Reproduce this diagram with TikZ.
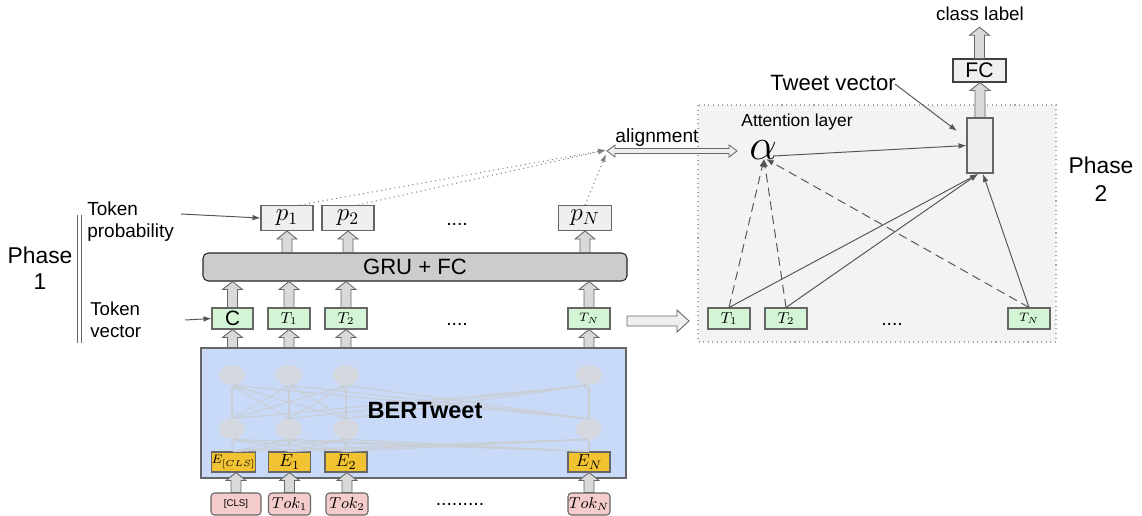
\documentclass[tikz,border=0pt]{standalone}
\usepackage{fontspec}
\setmainfont{Liberation Sans}
\usetikzlibrary{calc,arrows.meta,shapes.geometric}

\newdimen\px \px=0.02cm

\definecolor{edgegray}{HTML}{666666}
\definecolor{boxgray}{HTML}{EFEFEF}
\definecolor{grugray}{HTML}{CCCCCC}
\definecolor{mint}{HTML}{D3F5D6}
\definecolor{bertblue}{HTML}{C9DAF8}
\definecolor{gold}{HTML}{F1C232}
\definecolor{tokpink}{HTML}{F4CCCC}
\definecolor{neurgray}{HTML}{D5D8DE}
\definecolor{nnline}{HTML}{C9CDD4}
\definecolor{phasebg}{HTML}{F3F3F3}
\definecolor{arrgray}{HTML}{D9D9D9}
\definecolor{connc}{HTML}{555555}

% block arrow pointing up, from a lower point to an upper point
\newcommand\blkup[2]{%
  \draw[blk] let \p1=#1, \p2=#2 in
    (\x1-5*\px,\y1) -- (\x1-5*\px,\y2-8*\px) -- (\x1-10*\px,\y2-8*\px) --
    (\x1,\y2) -- (\x1+10*\px,\y2-8*\px) -- (\x1+5*\px,\y2-8*\px) --
    (\x1+5*\px,\y1) -- cycle;}

\begin{document}
\begin{tikzpicture}[x=0.02cm,y=-0.02cm,
  box/.style={draw=edgegray, line width=0.6pt, inner sep=0pt},
  probbox/.style={box, fill=boxgray, minimum width=52*\px, minimum height=25*\px,
                  font=\fontsize{14.4}{15}\selectfont},
  vecbox/.style={box, fill=mint, minimum width=42*\px, minimum height=21*\px,
                 font=\fontsize{9}{10}\selectfont},
  embbox/.style={box, fill=gold, minimum width=42*\px, minimum height=20*\px,
                 font=\fontsize{10}{11}\selectfont},
  tokbox/.style={box, fill=tokpink, minimum width=42*\px, minimum height=22*\px,
                 rounded corners=2pt, font=\fontsize{9}{10}\selectfont},
  neur/.style={ellipse, fill=neurgray, minimum width=26*\px, minimum height=20*\px, inner sep=0pt},
  nn/.style={draw=nnline, line width=0.6pt, -{Latex[length=3pt,width=2.5pt]}},
  blk/.style={draw=edgegray, fill=arrgray, line width=0.5pt},
  conn/.style={draw=connc, line width=0.55pt, -{Latex[length=4.5pt,width=3.2pt]}},
  dconn/.style={conn, dash pattern=on 5pt off 3pt},
  dotconn/.style={draw=gray, line width=0.6pt, dotted, -{Latex[length=4.5pt,width=3.2pt]}},
  lbl/.style={inner sep=0pt, align=left},
  dots/.style={inner sep=0pt, font=\fontsize{11}{12}\selectfont}
]
\clip (0,0) rectangle (1142,515);

% ---------------- phase 2 panel ----------------
\draw[draw=gray!70, fill=phasebg, dotted, line width=0.6pt] (698,105) rectangle (1056,342);

% ---------------- phase labels ----------------
\node[lbl, align=center, font=\fontsize{13}{15}\selectfont] (ph1) at (40,268) {Phase\\1};
\node[lbl, align=center, font=\fontsize{13}{16}\selectfont] (ph2) at (1101,179) {Phase\\2};
\draw[draw=gray!80!black, line width=0.5pt] (77,215) -- (77,343);
\draw[draw=gray!80!black, line width=0.5pt] (81,215) -- (81,343);
\node[lbl, anchor=west, font=\fontsize{10.8}{12.5}\selectfont] (tprob) at (87,222) {Token\\probability};
\node[lbl, anchor=west, font=\fontsize{10.6}{12.5}\selectfont] (tvec) at (90,320) {Token\\vector};

% ---------------- BERTweet ----------------
\node[box, fill=bertblue, minimum width=425*\px, minimum height=130*\px] (bert) at (413.5,413) {};

\foreach \n/\x in {1/232,2/289,3/346,4/589}{
  \node[neur] (a\n) at (\x,375) {};
  \node[neur] (b\n) at (\x,429) {};
}

\node[embbox, minimum width=41*\px, font=\fontsize{7}{8}\selectfont] (e1) at (233.5,462) {$E_{[CLS]}$};
\node[embbox] (e2) at (289.5,462) {$E_1$};
\node[embbox] (e3) at (346,462) {$E_2$};
\node[embbox] (e4) at (589,462) {$E_N$};

\foreach \i in {1,...,4}{
  \foreach \j in {1,...,4}{
    \draw[nn] (b\i.north) -- (a\j.south);
    \draw[nn] (e\i.north) -- (b\j.south);
  }
}
\node[font=\fontsize{13.4}{14}\selectfont\bfseries] (berttxt) at (425,411) {BERTweet};

% ---------------- input tokens ----------------
\node[tokbox, minimum width=50*\px, font=\fontsize{5.5}{6}\selectfont] (k1) at (236,504) {[CLS]};
\node[tokbox] (k2) at (289.5,504) {$Tok_1$};
\node[tokbox] (k3) at (347,504) {$Tok_2$};
\node[tokbox] (k4) at (589,504) {$Tok_N$};
\node[dots] (kdots) at (460,504) {.........};

\foreach \i in {1,...,4}{ \blkup{(k\i.north)}{(e\i.south)} }

% ---------------- token vectors ----------------
\node[vecbox, minimum width=41*\px, font=\fontsize{11.8}{12}\selectfont] (c) at (232.5,318.5) {C};
\node[vecbox] (t1) at (289,318.5) {$T_1$};
\node[vecbox] (t2) at (346,318.5) {$T_2$};
\node[vecbox, font=\fontsize{7}{8}\selectfont] (tn) at (589,318.5) {$T_N$};
\node[dots] (tdots) at (457,324) {....};

\foreach \v in {c,t1,t2,tn}{ \blkup{(\v.north |- bert.north)}{(\v.south)} }

% ---------------- GRU + FC ----------------
\node[box, draw=black!85, fill=grugray, rounded corners=3pt, minimum width=424*\px,
      minimum height=28*\px, font=\fontsize{12.6}{13}\selectfont] (gru) at (415,267) {GRU + FC};
\foreach \v in {c,t1,t2,tn}{ \blkup{(\v.north)}{(\v.north |- gru.south)} }

% ---------------- token probabilities ----------------
\node[probbox] (p1) at (287,218) {$p_1$};
\node[probbox] (p2) at (348,218) {$p_2$};
\node[probbox, minimum width=53*\px] (pn) at (585,218) {$p_N$};
\node[dots] (pdots) at (457,224) {....};
\foreach \v in {p1,p2,pn}{ \blkup{(\v.south |- gru.north)}{(\v.south)} }

% pointers from the side labels
\coordinate (tprobR) at (181,214);
\coordinate (tvecR) at (185,320);
\draw[conn] (tprobR) -- (p1.west);
\draw[conn] (tvecR) -- (c.west);

% ---------------- alignment ----------------
\coordinate (alnL) at (606,150);
\draw[draw=edgegray, fill=boxgray, line width=0.5pt]
  (607,151) -- (615,145) -- (615,148.5) -- (729,148.5) -- (729,145) -- (737,151) --
  (729,157) -- (729,153.5) -- (615,153.5) -- (615,157) -- cycle;
\node[inner sep=0pt, font=\fontsize{10.9}{12}\selectfont] (alntxt) at (657,138) {alignment};
\draw[dotconn] ([xshift=13*\px]p1.north) -- (alnL);
\draw[dotconn] ([xshift=10*\px]p2.north) -- (alnL);
\draw[dotconn] (pn.north) -- ([yshift=-4*\px]alnL);

% ---------------- hand-over arrow ----------------
\draw[blk, fill=boxgray] (627,316) -- (677,316) -- (677,310) -- (689,321) -- (677,332) --
  (677,326) -- (627,326) -- cycle;

% ---------------- attention ----------------
\node[vecbox] (u1) at (729,318.5) {$T_1$};
\node[vecbox] (u2) at (786,318.5) {$T_2$};
\node[vecbox, font=\fontsize{7}{8}\selectfont] (un) at (1029,318.5) {$T_N$};
\node[dots] (udots) at (892,324) {....};

\node[inner sep=0pt, font=\fontsize{9.9}{11}\selectfont] (attl) at (797,122) {Attention layer};
\node[inner sep=0pt, font=\fontsize{24.88}{26}\selectfont] (alpha) at (763,150.5) {$\alpha$};
\coordinate (alphaB) at (764,159);
\coordinate (alphaR) at (773,156);

\node[box, fill=boxgray, minimum width=26*\px, minimum height=55*\px] (tv) at (980,145.5) {};
\coordinate (tvB1) at (978,174);
\coordinate (tvB2) at (983,174);

\draw[dconn] (u1.north) -- (alphaB);
\draw[dconn] (u2.north) -- (alphaB);
\draw[dconn] (un.north) -- ([xshift=2*\px]alphaB);
\draw[conn] (alphaR) -- (tv.west);
\draw[conn] (u1.north) -- (tvB1);
\draw[conn] (u2.north) -- (tvB1);
\draw[conn] (un.north) -- (tvB2);

% ---------------- classifier ----------------
\node[box, draw=black!75, fill=boxgray, minimum width=53*\px, minimum height=23*\px,
      font=\fontsize{12}{13}\selectfont] (fc) at (979.5,70.5) {FC};
\node[inner sep=0pt, font=\fontsize{10.7}{12}\selectfont] (cls) at (980,14) {class label};
\blkup{(tv.north)}{(fc.south)}
\blkup{(fc.north)}{([yshift=-6*\px]cls.south)}

\node[inner sep=0pt, font=\fontsize{12.6}{14}\selectfont] (twv) at (833,83) {Tweet vector};
\coordinate (twvR) at (895,84);
\draw[conn] (twvR) -- (957,131);
\end{tikzpicture}
\end{document}
